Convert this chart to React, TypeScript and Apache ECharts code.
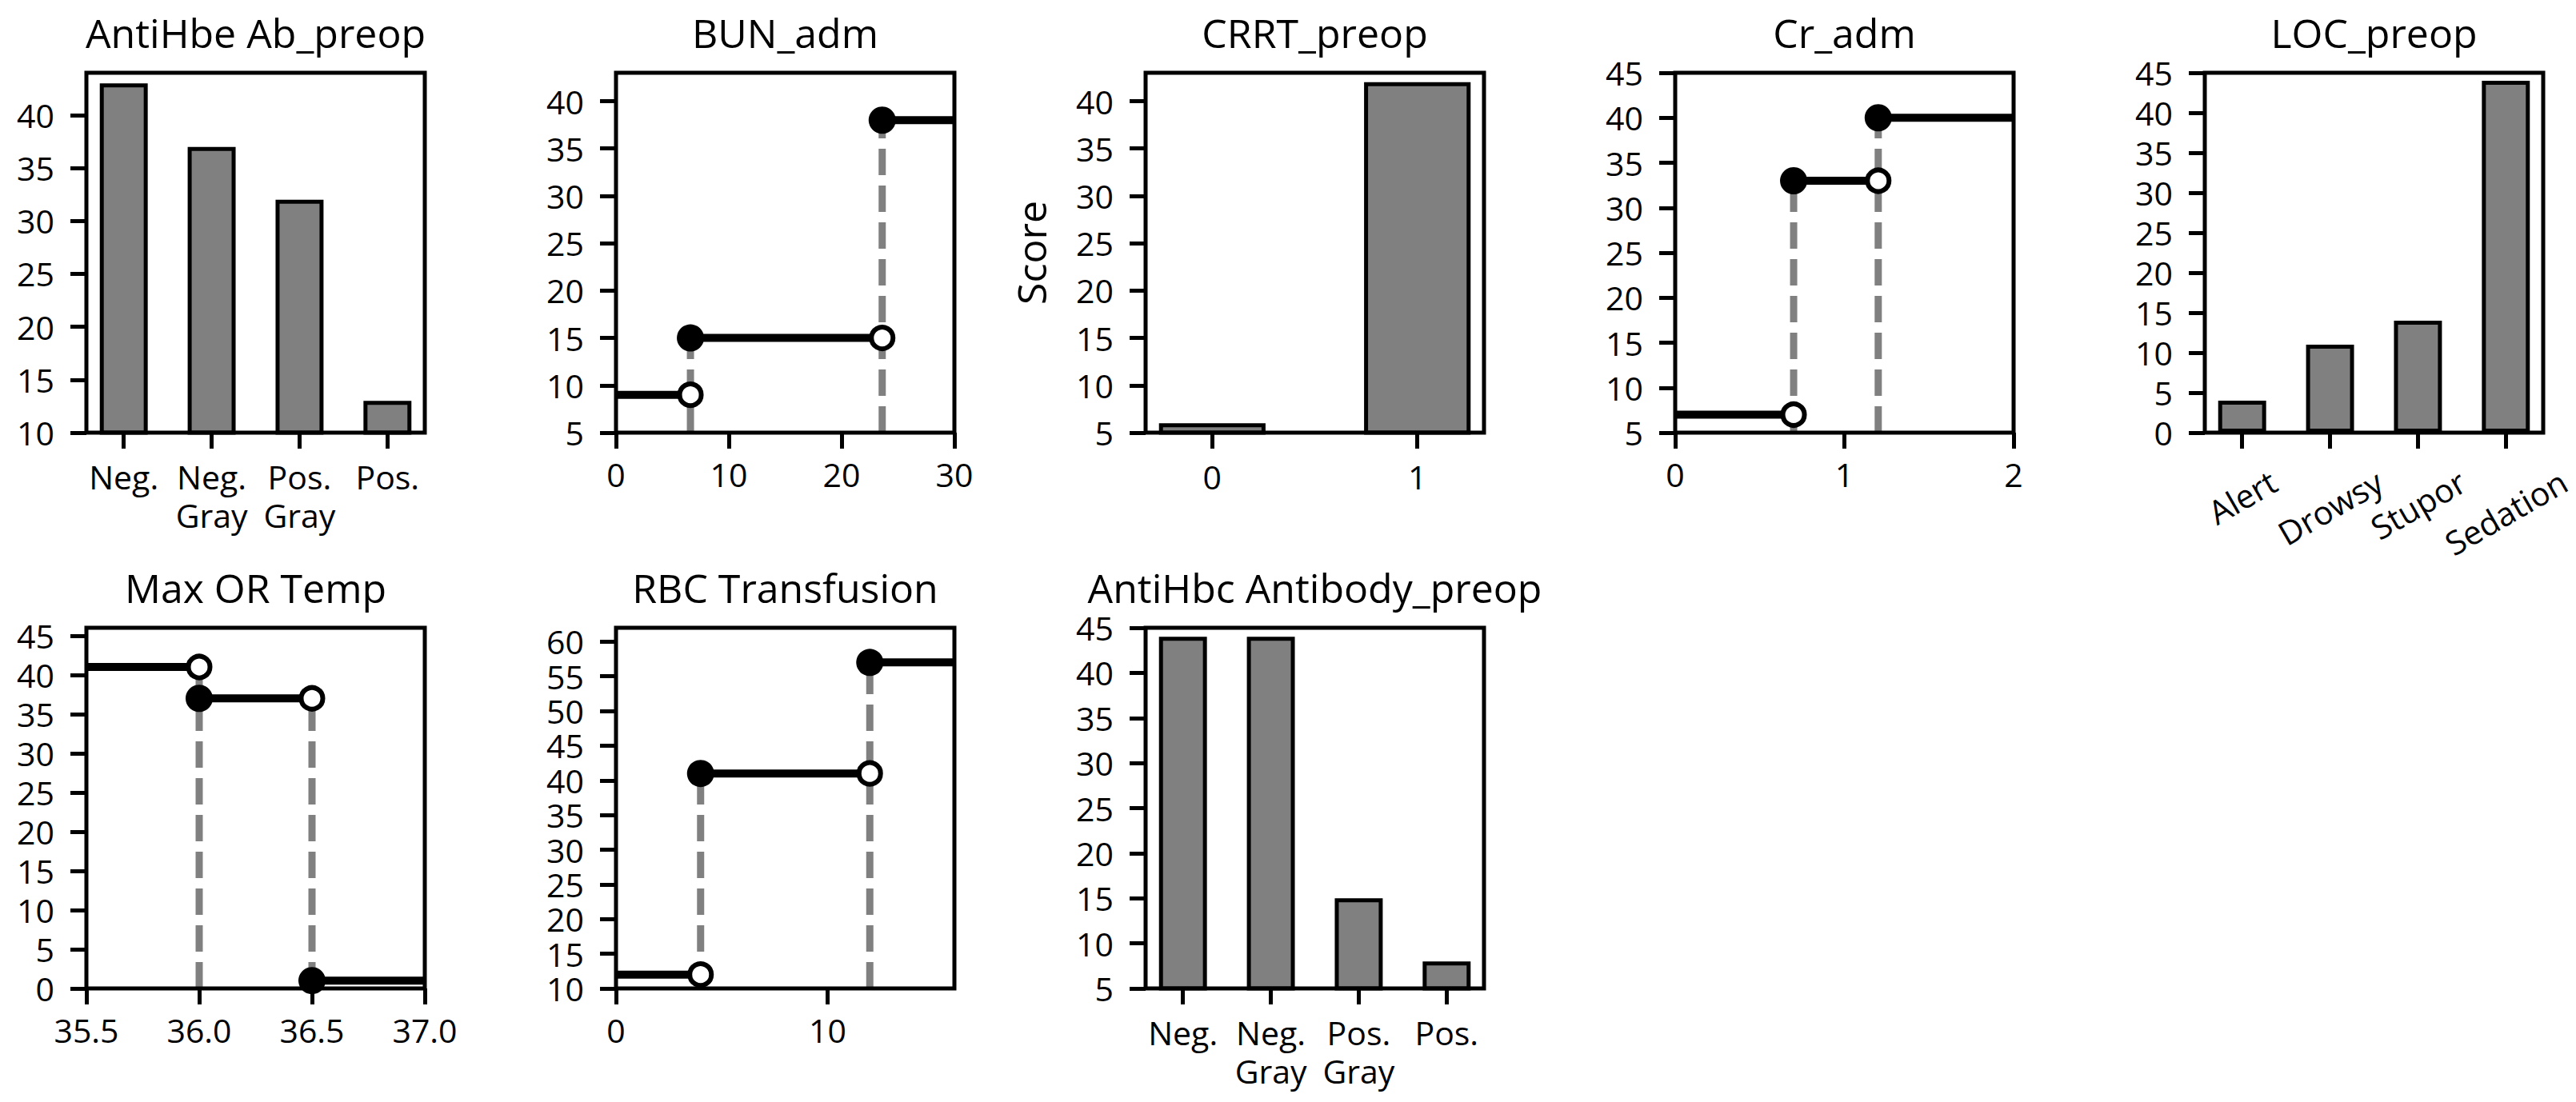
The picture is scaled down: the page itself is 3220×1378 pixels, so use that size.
import React, { useEffect, useRef } from "react";
import * as echarts from "echarts";

const FONT_NAME = "Open Sans";
const FONT = "'Open Sans', 'Noto Sans', sans-serif";
const TICK_SIZE = 41;
const TITLE_SIZE = 50;

// ---------------- data ----------------
const ANTIHBE_CATS = ["Neg.", "Neg.\nGray", "Pos.\nGray", "Pos."];
const ANTIHBE_VALUES = [43, 37, 32, 13];
const ANTIHBE_YTICKS = [10, 15, 20, 25, 30, 35, 40];

const BUN_BREAKS = [6.6, 23.6];
const BUN_LEVELS = [9, 15, 38];
const BUN_XTICKS = [0, 10, 20, 30];
const BUN_YTICKS = [5, 10, 15, 20, 25, 30, 35, 40];

const CRRT_CATS = ["0", "1"];
const CRRT_VALUES = [6, 42];
const CRRT_YTICKS = [5, 10, 15, 20, 25, 30, 35, 40];

const CR_BREAKS = [0.7, 1.2];
const CR_LEVELS = [7, 33, 40];
const CR_XTICKS = [0, 1, 2];
const CR_YTICKS = [5, 10, 15, 20, 25, 30, 35, 40, 45];

const LOC_CATS = ["Alert", "Drowsy", "Stupor", "Sedation"];
const LOC_VALUES = [4, 11, 14, 44];
const LOC_YTICKS = [0, 5, 10, 15, 20, 25, 30, 35, 40, 45];

const TEMP_BREAKS = [36.0, 36.5];
const TEMP_LEVELS = [41, 37, 1];
const TEMP_XTICKS = [35.5, 36.0, 36.5, 37.0];
const TEMP_YTICKS = [0, 5, 10, 15, 20, 25, 30, 35, 40, 45];

const RBC_BREAKS = [4, 12];
const RBC_LEVELS = [12, 41, 57];
const RBC_XTICKS = [0, 10];
const RBC_YTICKS = [10, 15, 20, 25, 30, 35, 40, 45, 50, 55, 60];

const ANTIHBC_CATS = ["Neg.", "Neg.\nGray", "Pos.\nGray", "Pos."];
const ANTIHBC_VALUES = [44, 44, 15, 8];
const ANTIHBC_YTICKS = [5, 10, 15, 20, 25, 30, 35, 40, 45];

// ---------------- layout ----------------
const PANEL_W = 423;
const COL_LEFT = [108, 770, 1432, 2094, 2756];
const ROW_TOP = [91, 785];
const ROW_H = [450, 451];
const TITLE_TOP = [16, 710];
const BAR_BORDER = 5;

type Panel = {
  title: string;
  row: number;
  col: number;
  kind: "bar" | "step";
  cats?: string[];
  values?: number[];
  breaks?: number[];
  levels?: number[];
  xMin?: number;
  xMax?: number;
  xTicks?: number[];
  xDecimals?: number;
  yMin: number;
  yMax: number;
  yTicks: number[];
  yName?: string;
  rotateLabels?: boolean;
};

const PANELS: Panel[] = [
  { title: "AntiHbe Ab_preop", row: 0, col: 0, kind: "bar", cats: ANTIHBE_CATS, values: ANTIHBE_VALUES, yMin: 10, yMax: 44, yTicks: ANTIHBE_YTICKS },
  { title: "BUN_adm", row: 0, col: 1, kind: "step", breaks: BUN_BREAKS, levels: BUN_LEVELS, xMin: 0, xMax: 30, xTicks: BUN_XTICKS, yMin: 5, yMax: 43, yTicks: BUN_YTICKS },
  { title: "CRRT_preop", row: 0, col: 2, kind: "bar", cats: CRRT_CATS, values: CRRT_VALUES, yMin: 5, yMax: 43, yTicks: CRRT_YTICKS, yName: "Score" },
  { title: "Cr_adm", row: 0, col: 3, kind: "step", breaks: CR_BREAKS, levels: CR_LEVELS, xMin: 0, xMax: 2, xTicks: CR_XTICKS, yMin: 5, yMax: 45, yTicks: CR_YTICKS },
  { title: "LOC_preop", row: 0, col: 4, kind: "bar", cats: LOC_CATS, values: LOC_VALUES, yMin: 0, yMax: 45, yTicks: LOC_YTICKS, rotateLabels: true },
  { title: "Max OR Temp", row: 1, col: 0, kind: "step", breaks: TEMP_BREAKS, levels: TEMP_LEVELS, xMin: 35.5, xMax: 37.0, xTicks: TEMP_XTICKS, xDecimals: 1, yMin: 0, yMax: 46, yTicks: TEMP_YTICKS },
  { title: "RBC Transfusion", row: 1, col: 1, kind: "step", breaks: RBC_BREAKS, levels: RBC_LEVELS, xMin: 0, xMax: 16, xTicks: RBC_XTICKS, yMin: 10, yMax: 62, yTicks: RBC_YTICKS },
  { title: "AntiHbc Antibody_preop", row: 1, col: 2, kind: "bar", cats: ANTIHBC_CATS, values: ANTIHBC_VALUES, yMin: 5, yMax: 45, yTicks: ANTIHBC_YTICKS },
];

function measure(text: string, size: number): number {
  const ctx = document.createElement("canvas").getContext("2d");
  if (!ctx) return text.length * size * 0.55;
  ctx.font = `${size}px "${FONT_NAME}"`;
  return ctx.measureText(text).width;
}

function buildOption() {
  const grids: any[] = [];
  const xAxes: any[] = [];
  const yAxes: any[] = [];
  const series: any[] = [];
  const titles: any[] = [];

  const labelBase = { color: "#000", fontSize: TICK_SIZE, fontFamily: FONT };
  const tickBase = { show: true, length: 20, lineStyle: { color: "#000", width: 5 } };

  PANELS.forEach((p, i) => {
    const left = COL_LEFT[p.col];
    const top = ROW_TOP[p.row];
    const h = ROW_H[p.row];
    grids.push({
      left, top, width: PANEL_W, height: h,
      show: true, borderColor: "#000", borderWidth: 5,
      backgroundColor: "transparent", z: 10,
    });
    titles.push({
      text: p.title, left: left + PANEL_W / 2, top: TITLE_TOP[p.row],
      textAlign: "center", padding: 0,
      textStyle: { fontSize: TITLE_SIZE, fontWeight: "normal", fontFamily: FONT, color: "#000" },
    });

    let xMin: number, xMax: number, xTicks: number[];
    let xLabel: any;
    if (p.kind === "bar") {
      const n = p.cats!.length;
      const margin = 0.05 * (n - 0.5);
      xMin = -0.25 - margin;
      xMax = n - 0.75 + margin;
      xTicks = p.cats!.map((_, k) => k);
      if (p.rotateLabels) {
        const widths = p.cats!.map((c) => measure(c, TICK_SIZE));
        const rich: any = {};
        widths.forEach((w, k) => {
          const d = w / 4;
          rich["l" + k] = { fontSize: TICK_SIZE, fontFamily: FONT, color: "#000", padding: [1.732 * d, d, 0, 0] };
        });
        xLabel = {
          ...labelBase, customValues: xTicks, rotate: 30, align: "center", verticalAlign: "middle",
          margin: 80 - widths[0] / 4, rich,
          formatter: (v: number) => `{l${Math.round(v)}|${p.cats![Math.round(v)]}}`,
        };
      } else {
        xLabel = {
          ...labelBase, customValues: xTicks, margin: 31, lineHeight: 48,
          formatter: (v: number) => p.cats![Math.round(v)] ?? "",
        };
      }
      // ECharts keeps the border inside the bar; matplotlib centres it on the edge
      const barW = (0.5 * PANEL_W) / (xMax - xMin) + BAR_BORDER;
      series.push({
        type: "bar", xAxisIndex: i, yAxisIndex: i, silent: true, z: 2,
        data: p.values!.map((v, k) => [k, v]),
        barWidth: barW,
        itemStyle: { color: "#808080", borderColor: "#000", borderWidth: BAR_BORDER },
      });
    } else {
      xMin = p.xMin!;
      xMax = p.xMax!;
      xTicks = p.xTicks!;
      const dec = p.xDecimals ?? 0;
      xLabel = { ...labelBase, customValues: xTicks, margin: 31, formatter: (v: number) => v.toFixed(dec) };
      const br = p.breaks!;
      const lv = p.levels!;
      // dashed verticals
      br.forEach((b, j) => {
        series.push({
          type: "line", xAxisIndex: i, yAxisIndex: i, silent: true, z: 2, symbol: "none",
          data: [[b, p.yMin], [b, Math.max(lv[j], lv[j + 1])]],
          lineStyle: { color: "#808080", width: 9, type: [33, 13] },
        });
      });
      // horizontal segments
      lv.forEach((v, k) => {
        const x0 = k === 0 ? xMin : br[k - 1];
        const x1 = k === lv.length - 1 ? xMax : br[k];
        series.push({
          type: "line", xAxisIndex: i, yAxisIndex: i, silent: true, z: 3, symbol: "none",
          data: [[x0, v], [x1, v]],
          lineStyle: { color: "#000", width: 10 },
        });
      });
      series.push({
        type: "scatter", xAxisIndex: i, yAxisIndex: i, silent: true, z: 4,
        data: br.map((b, j) => [b, lv[j]]),
        symbol: "circle", symbolSize: 27,
        itemStyle: { color: "#fff", borderColor: "#000", borderWidth: 6, opacity: 1 },
      });
      series.push({
        type: "scatter", xAxisIndex: i, yAxisIndex: i, silent: true, z: 4,
        data: br.map((b, j) => [b, lv[j + 1]]),
        symbol: "circle", symbolSize: 34,
        itemStyle: { color: "#000", opacity: 1 },
      });
    }

    xAxes.push({
      type: "value", gridIndex: i, min: xMin, max: xMax,
      axisLine: { show: false, onZero: false },
      axisTick: { ...tickBase, customValues: xTicks },
      axisLabel: xLabel,
      splitLine: { show: false },
    });
    yAxes.push({
      type: "value", gridIndex: i, min: p.yMin, max: p.yMax,
      axisLine: { show: false, onZero: false },
      axisTick: { ...tickBase, customValues: p.yTicks },
      axisLabel: { ...labelBase, customValues: p.yTicks, margin: 40, lineHeight: 40 },
      splitLine: { show: false },
      ...(p.yName
        ? { name: p.yName, nameLocation: "middle", nameGap: 118, nameTextStyle: { fontSize: TITLE_SIZE, fontFamily: FONT, color: "#000" } }
        : {}),
    });
  });

  return {
    animation: false,
    backgroundColor: "#fff",
    title: titles,
    grid: grids,
    xAxis: xAxes,
    yAxis: yAxes,
    series,
  };
}

export default function App() {
  const ref = useRef<HTMLDivElement>(null);
  useEffect(() => {
    if (!ref.current) return;
    const chart = echarts.init(ref.current, null, { renderer: "svg" });
    chart.setOption(buildOption() as any);
    return () => chart.dispose();
  }, []);
  return (
    <div
      ref={ref}
      style={{ position: "absolute", left: 0, top: 0, width: 3220, height: 1378, background: "#fff" }}
    />
  );
}
